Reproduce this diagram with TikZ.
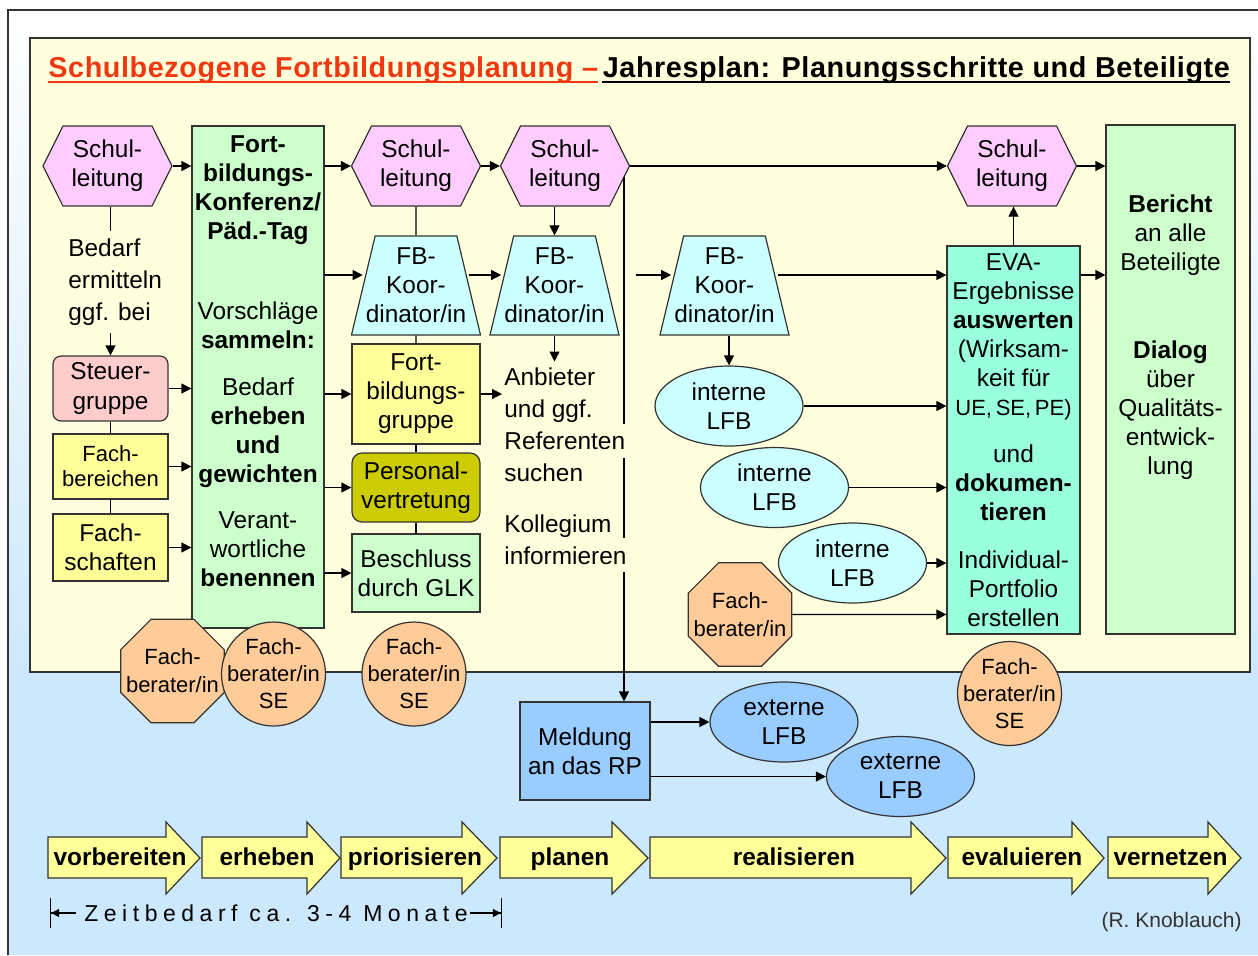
\documentclass[tikz,border=0pt]{standalone}
\usepackage{fontspec}
\setmainfont{Liberation Sans}
\usetikzlibrary{shapes.geometric,shapes.symbols,arrows.meta}

\definecolor{bgyellow}{RGB}{255,255,221}
\definecolor{bgblue}{RGB}{204,232,252}
\definecolor{slpink}{RGB}{255,204,255}
\definecolor{fkgreen}{RGB}{204,255,204}
\definecolor{sgrose}{RGB}{255,204,204}
\definecolor{fbyellow}{RGB}{255,255,153}
\definecolor{pvolive}{RGB}{204,204,0}
\definecolor{kocyan}{RGB}{204,255,255}
\definecolor{evamint}{RGB}{153,255,221}
\definecolor{fborange}{RGB}{255,204,153}
\definecolor{exblue}{RGB}{153,204,255}
\definecolor{titlered}{RGB}{240,56,16}
\definecolor{rand}{RGB}{51,51,51}

% Zeile, die eine senkrechte Linie verdeckt
\newcommand{\maske}[1]{{\fboxsep=0pt\colorbox{bgyellow}{\rule[-4pt]{0pt}{17pt}#1\kern2pt}}}

\tikzset{
  every node/.style={font=\fontsize{12.2}{14.5}\selectfont},
  umriss/.style={draw=rand, line width=0.6pt, inner sep=0pt, align=center},
  hexa/.style={umriss, signal, signal to=east and west, signal pointer angle=127,
    minimum width=64.5pt, minimum height=40pt, fill=slpink},
  trap/.style={umriss, trapezium, trapezium angle=72.5, trapezium stretches body=true,
    minimum width=64.5pt, minimum height=49.5pt, inner xsep=-9pt, fill=kocyan},
  kasten/.style={umriss, rectangle},
  lfb/.style={umriss, ellipse, minimum width=74pt, minimum height=40pt},
  fbkreis/.style={umriss, circle, minimum size=52pt, inner sep=-4pt, fill=fborange,
    font=\fontsize{11}{13.5}\selectfont},
  fbacht/.style={umriss, regular polygon, regular polygon sides=8, minimum size=56pt,
    inner sep=-7pt, fill=fborange, font=\fontsize{11}{14}\selectfont},
  frei/.style={align=left, inner sep=0pt, font=\fontsize{12.2}{16}\selectfont},
  pfeil/.style={-{Triangle[length=5pt,width=5pt]}, line width=0.6pt},
  linie/.style={line width=0.6pt},
  stufe/.style={draw=rand, line width=0.6pt, fill=fbyellow},
  titel/.style={anchor=base west, inner sep=0pt,
    font=\fontsize{14.4}{16}\selectfont\bfseries\addfontfeature{LetterSpace=2}}
}

\begin{document}
\begin{tikzpicture}[x=0.5pt, y=-0.5pt]
\useasboundingbox (0,0) rectangle (1258,955);
% Hintergrund
\shade[top color=white, bottom color=bgblue] (8,10) rectangle (1258,680);
\fill[bgblue] (8,680) rectangle (1258,955);
\draw[rand, line width=1pt] (1258,10) -- (8,10) -- (8,955);
\draw[rand, line width=1pt, fill=bgyellow] (30,38) rectangle (1250,672);

% Titel
\node[titel, text=titlered] (titel1) at (48,77) {Schulbezogene Fortbildungsplanung –};
\node[titel] (titel2) at ([xshift=2pt]titel1.base east) {Jahresplan: Planungsschritte und Beteiligte};
\draw[titlered, line width=1pt] ([yshift=-2.5pt]titel1.base west) -- ([yshift=-2.5pt]titel1.base east);
\draw[line width=1pt] ([yshift=-2.5pt]titel2.base west) -- ([yshift=-2.5pt]titel2.base east);

% linke Spalte
\node[hexa] (sl1) at (107.5,166) {Schul-\\leitung};
\node[kasten, fill=fkgreen, minimum width=66pt, minimum height=251pt] (fbk) at (258,377) {};
\node[anchor=north, inner sep=0pt, align=center] (fbktext) at ([yshift=-5pt]fbk.north)
  {\textbf{Fort-}\\\textbf{bildungs-}\\\textbf{Konferenz/}\\\textbf{Päd.-Tag}\\[25.5pt]
   Vorschläge\\\textbf{sammeln:}\\[9pt]
   Bedarf\\\textbf{erheben}\\\textbf{und}\\\textbf{gewichten}\\[8.5pt]
   Verant-\\wortliche\\\textbf{benennen}};
\node[kasten, fill=sgrose, rounded corners=4pt, minimum width=57.5pt, minimum height=32.5pt] (sg) at (110.5,388.5) {Steuer-\\gruppe};
\node[kasten, fill=fbyellow, minimum width=57.5pt, minimum height=32.5pt, font=\fontsize{11}{12.5}\selectfont] (fbe) at (110.5,466.5) {Fach-\\bereichen};
\node[kasten, fill=fbyellow, minimum width=57.5pt, minimum height=33.5pt] (fsch) at (110.5,547.5) {Fach-\\schaften};
\node[fbacht] (fba1) at (172.5,671) {Fach-\\berater/in};
\node[fbkreis] (fbse1) at (273.5,674) {Fach-\\berater/in\\SE};

% Mitte
\node[hexa] (sl2) at (416,166) {Schul-\\leitung};
\node[hexa] (sl3) at (565,166) {Schul-\\leitung};
\node[trap] (ko1) at (416,285.5) {FB-\\Koor-\\dinator/in};
\node[trap] (ko2) at (554.5,285.5) {FB-\\Koor-\\dinator/in};
\node[kasten, fill=fbyellow, minimum width=64pt, minimum height=50pt] (fbg) at (416,394) {Fort-\\bildungs-\\gruppe};
\node[kasten, fill=pvolive, rounded corners=5pt, minimum width=64pt, minimum height=34.5pt] (pv) at (416,487.5) {Personal-\\vertretung};
\node[kasten, fill=fkgreen, minimum width=64pt, minimum height=39pt] (glk) at (416,573) {Beschluss\\durch GLK};
\node[fbkreis] (fbse2) at (414,674) {Fach-\\berater/in\\SE};
\node[kasten, fill=exblue, minimum width=65pt, minimum height=49pt] (rp) at (585,751) {Meldung\\an das RP};

% rechte Seite
\node[trap] (ko3) at (724.5,285.5) {FB-\\Koor-\\dinator/in};
\node[lfb, fill=kocyan] (int1) at (729,406) {interne\\LFB};
\node[lfb, fill=kocyan] (int2) at (774.5,487.5) {interne\\LFB};
\node[lfb, fill=kocyan] (int3) at (852.5,563) {interne\\LFB};
\node[fbacht] (fba2) at (740,614.5) {Fach-\\berater/in};
\node[lfb, fill=exblue] (ext1) at (784,722) {externe\\LFB};
\node[lfb, fill=exblue] (ext2) at (900.5,776.5) {externe\\LFB};
\node[hexa] (sl4) at (1012,166) {Schul-\\leitung};
\node[kasten, fill=evamint, minimum width=66.5pt, minimum height=194pt] (eva) at (1013.5,440) {};
\node[anchor=north, inner sep=0pt, align=center] (evatext) at ([yshift=-4pt]eva.north)
  {EVA-\\Ergebnisse\\\textbf{auswerten}\\(Wirksam-\\keit für\\{\fontsize{11}{14.5}\selectfont UE,\,SE,\,PE)}\\[9pt]
   und\\\textbf{dokumen-}\\\textbf{tieren}\\[9.5pt]
   Individual-\\Portfolio\\erstellen};
\node[kasten, fill=fkgreen, minimum width=64.5pt, minimum height=254.5pt] (ber) at (1170.5,379.5) {};
\node[anchor=north, inner sep=0pt, align=center] (bertext) at ([yshift=-35pt]ber.north)
  {\textbf{Bericht}\\an alle\\Beteiligte\\[29.5pt]
   \textbf{Dialog}\\über\\Qualitäts-\\entwick-\\lung};
\node[fbkreis] (fbse3) at (1009.5,693.5) {Fach-\\berater/in\\SE};

% Verbindungen
\draw[pfeil] (sg.north |- sl1.south) -- (sg.north);
\node[frei, fill=bgyellow, inner sep=4pt, anchor=west] (bedarf) at (60,282) {Bedarf\\ermitteln\\ggf. bei};
\coordinate (abzw) at (624,177);
\draw[pfeil] (abzw) -- (abzw |- rp.north);
\node[frei, anchor=north west] (anb) at (504,367.5) {Anbieter\\und ggf.\\\maske{Referenten}\\suchen};
\node[frei, anchor=north west] (koll) at (504,514) {Kollegium\\\maske{informieren}};

\draw[pfeil] (sl1.east) -- (sl1 -| fbk.west);
\draw[pfeil] (sg.east) -- (sg -| fbk.west);
\draw[pfeil] (fbe.east) -- (fbe -| fbk.west);
\draw[pfeil] (fsch.east) -- (fsch -| fbk.west);
\draw[linie] (sg) -- (fbe);
\draw[linie] (fbe) -- (fsch);
\draw[pfeil] (fbk.east |- sl2) -- (sl2.west);
\draw[pfeil] (sl2.east) -- (sl3.west);
\draw[pfeil] (sl3.east) -- (sl4.west);
\draw[pfeil] (sl4.east) -- (sl4 -| ber.west);
\draw[linie] (sl2) -- (ko1);
\draw[pfeil] (ko2.north |- sl3.south) -- (ko2.north);
\draw[pfeil] (fbk.east |- 0,275) -- (ko1.west |- 0,275);
\draw[pfeil] (ko1.east |- 0,275) -- (ko2.west |- 0,275);
\draw[pfeil, shorten <=14pt] (ko2.east |- 0,275) -- (ko3.west |- 0,275);
\draw[pfeil] (ko3.east |- 0,275) -- (eva.west |- 0,275);
\draw[pfeil] (eva.east |- 0,275) -- (ber.west |- 0,275);
\draw[pfeil] (eva.north) -- (eva.north |- sl4.south);
\draw[linie] (ko1) -- (fbg);
\draw[linie] (fbg) -- (pv);
\draw[linie] (pv) -- (glk);
\draw[pfeil] (fbk.east |- fbg) -- (fbg.west);
\draw[pfeil] (fbk.east |- pv) -- (pv.west);
\draw[pfeil] (fbk.east |- glk) -- (glk.west);
\draw[pfeil] (fbg.east) -- ([xshift=-1pt]anb.west |- fbg);
\draw[pfeil] (ko2.south) -- ([yshift=3pt]ko2.south |- anb.north);
\draw[pfeil] (int1.north |- ko3.south) -- (int1.north);
\draw[pfeil] (int1.east) -- (int1 -| eva.west);
\draw[pfeil] (int2.east) -- (int2 -| eva.west);
\draw[pfeil] (int3.east) -- (int3 -| eva.west);
\draw[pfeil] (fba2.east) -- (fba2 -| eva.west);
\draw[pfeil] (rp.east |- ext1) -- (ext1.west);
\draw[pfeil] (rp.east |- ext2) -- (ext2.west);

% Schritte
\foreach \xa/\xk/\xs/\wort in {48/166/200/vorbereiten, 202/307/340/erheben,
    341/462/497/priorisieren, 500/612/648/planen, 650/911/946/realisieren,
    948/1072/1104/evaluieren, 1108/1208/1241/vernetzen}{
  \draw[stufe] (\xa,837) -- (\xk,837) -- (\xk,822) -- (\xs,858) -- (\xk,894) -- (\xk,878) -- (\xa,878) -- cycle;
  \node[anchor=base, inner sep=0pt, font=\fontsize{12.2}{14}\selectfont\bfseries] (\wort) at ({(\xa+\xs)/2-4},865) {\wort};
}

\node[anchor=base, inner sep=0pt, font=\fontsize{11.5}{13}\selectfont\addfontfeature{LetterSpace=24}] (zeit) at (276,921.5) {Zeitbedarf ca. 3-4 Monate};
\coordinate (zl) at (50,913);
\coordinate (zr) at (502,913);
\draw[-{Triangle[length=4pt,width=4pt]Bar[width=15pt]}, line width=0.6pt, shorten <=4pt] (zeit.west |- zl) -- (zl);
\draw[-{Triangle[length=4pt,width=4pt]Bar[width=15pt]}, line width=0.6pt, shorten <=1pt] (zeit.east |- zr) -- (zr);

\node[anchor=base east, inner sep=0pt, text=rand, font=\fontsize{10.5}{12}\selectfont] (autor) at (1242,927.5) {(R. Knoblauch)};
\end{tikzpicture}
\end{document}
